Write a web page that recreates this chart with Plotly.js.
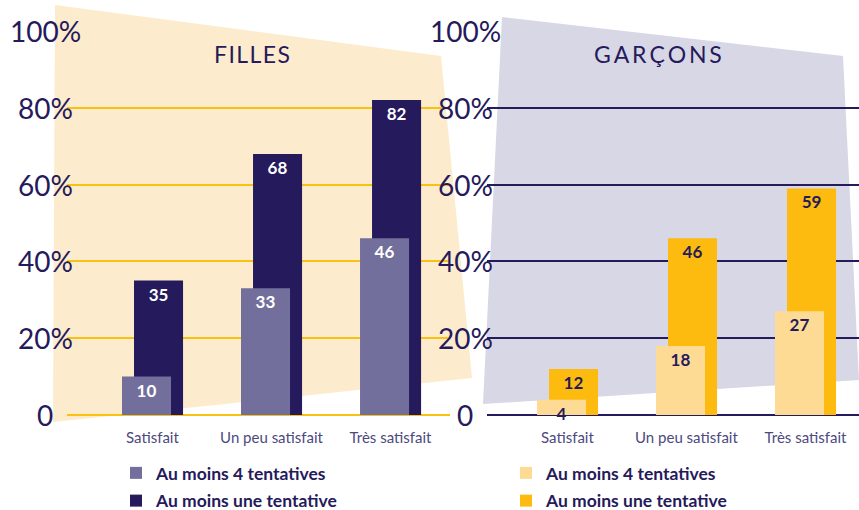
<!DOCTYPE html>
<html>
<head>
<meta charset="utf-8">
<script src="https://cdn.plot.ly/plotly-3.0.1.min.js"></script>
<style>
  body { margin: 0; background: #fff; }
  #plot { width: 859px; height: 510px; }
</style>
</head>
<body>
<div id="plot"></div>
<script>
// data (%)
const categories = ['Satisfait', 'Un peu satisfait', 'Très satisfait'];
const fillesUne = [35, 68, 82];
const fillesQuatre = [10, 33, 46];
const garconsUne = [12, 46, 59];
const garconsQuatre = [4, 18, 27];
const seriesNames = ['Au moins 4 tentatives', 'Au moins une tentative'];
const panelTitles = ['F\u200aI\u200aL\u200aL\u200aE\u200aS', 'G\u2009A\u2009R\u2009Ç\u2009O\u2009N\u2009S'];
const yTickVals = [0, 20, 40, 60, 80, 100];
const yTickText = ['0', '20%', '40%', '60%', '80%', '100%'];

const W = 859, H = 510;
const px = x => x / W;
const py = y => 1 - y / H;

const navy = '#251a5b';
const mauve = '#736f9c';
const yellow = '#f9c211';
const orange = '#fdbb0f';
const paleYellow = '#fddb94';
const labelGrey = '#4d4980';
const font = 'Lato, "Open Sans", sans-serif';

const barW = 0.412;
const offBack = -0.155;
const offFront = -0.256;

function bar(vals, name, color, txtColor, xa, ya, leg, rank, off) {
  return {
    type: 'bar', x: categories, y: vals, name: name,
    xaxis: xa, yaxis: ya, legend: leg, legendrank: rank, legendgroup: leg + rank,
    width: barW, offset: off, cliponaxis: false,
    marker: { color: color, line: { width: 0 } },
    text: vals.map(String), textposition: 'inside', insidetextanchor: 'end',
    constraintext: 'none', textangle: 0,
    textfont: { family: font, size: 17, color: txtColor, weight: 'bold' },
    hoverinfo: 'skip'
  };
}

const traces = [
  bar(fillesUne, seriesNames[1], navy, '#ffffff', 'x', 'y', 'legend', 2, offBack),
  bar(fillesQuatre, seriesNames[0], mauve, '#ffffff', 'x', 'y', 'legend', 1, offFront),
  bar(garconsUne, seriesNames[1], orange, navy, 'x2', 'y2', 'legend2', 2, offBack),
  bar(garconsQuatre, seriesNames[0], paleYellow, navy, 'x2', 'y2', 'legend2', 1, offFront)
];

const yDomain = [1 - 415 / H, 1 - 31 / H];

function yAxis(gridColor, anchor) {
  return {
    domain: yDomain, range: [0, 100], anchor: anchor, automargin: false,
    tickvals: yTickVals, showticklabels: false, ticks: '',
    showgrid: true, gridcolor: gridColor, gridwidth: 2,
    zeroline: true, zerolinecolor: gridColor, zerolinewidth: 2,
    showline: false, fixedrange: true
  };
}
function xAxis(domain, range, anchor) {
  return {
    domain: domain, range: range, anchor: anchor, type: 'category', automargin: false,
    ticks: '', showline: false, showgrid: false, zeroline: false,
    tickfont: { family: font, size: 15, color: labelGrey },
    ticklabelstandoff: 12, fixedrange: true
  };
}

// y tick labels are centred in the reference, so put them as annotations
const annotations = [];
yTickVals.forEach((v, i) => {
  annotations.push({ xref: 'paper', yref: 'y', x: px(45), y: v, text: yTickText[i],
    showarrow: false, xanchor: 'center', yanchor: 'middle',
    font: { family: font, size: 28, color: navy } });
  annotations.push({ xref: 'paper', yref: 'y2', x: px(465), y: v, text: yTickText[i],
    showarrow: false, xanchor: 'center', yanchor: 'middle',
    font: { family: font, size: 28, color: navy } });
});
annotations.push({ xref: 'paper', yref: 'paper', x: px(252), y: py(54), text: panelTitles[0],
  showarrow: false, xanchor: 'center', yanchor: 'middle',
  font: { family: font, size: 23, color: navy } });
annotations.push({ xref: 'paper', yref: 'paper', x: px(658), y: py(54), text: panelTitles[1],
  showarrow: false, xanchor: 'center', yanchor: 'middle',
  font: { family: font, size: 23, color: navy } });

// background panels
const poly = pts => 'M ' + pts.map(p => px(p[0]) + ' ' + py(p[1])).join(' L ') + ' Z';
const shapes = [
  { type: 'path', xref: 'paper', yref: 'paper', layer: 'below',
    path: poly([[55, 5], [441, 56], [472, 378], [53, 422]]),
    fillcolor: '#fdebcd', line: { width: 0 } },
  { type: 'path', xref: 'paper', yref: 'paper', layer: 'below',
    path: poly([[502, 17], [843, 56], [859, 380], [483, 404]]),
    fillcolor: '#d8d7e5', line: { width: 0 } }
];

const legendBase = {
  yanchor: 'top', xanchor: 'left', y: py(455),
  bgcolor: 'rgba(0,0,0,0)', tracegroupgap: 2,
  font: { family: font, size: 17.5, color: navy, weight: 'bold' }
};

const layout = {
  width: W, height: H,
  margin: { l: 0, r: 0, t: 0, b: 0, autoexpand: false },
  paper_bgcolor: '#ffffff', plot_bgcolor: 'rgba(0,0,0,0)',
  barmode: 'overlay', showlegend: true,
  xaxis: xAxis([px(67), px(450)], [-0.718, 2.5], 'y'),
  yaxis: yAxis(yellow, 'x'),
  xaxis2: xAxis([px(487), 1], [-0.676, 2.45], 'y2'),
  yaxis2: yAxis(navy, 'x2'),
  legend: Object.assign({}, legendBase, { x: px(116) }),
  legend2: Object.assign({}, legendBase, { x: px(506) }),
  shapes: shapes,
  annotations: annotations
};

Plotly.newPlot('plot', traces, layout, { displayModeBar: false, staticPlot: true });
</script>
</body>
</html>
